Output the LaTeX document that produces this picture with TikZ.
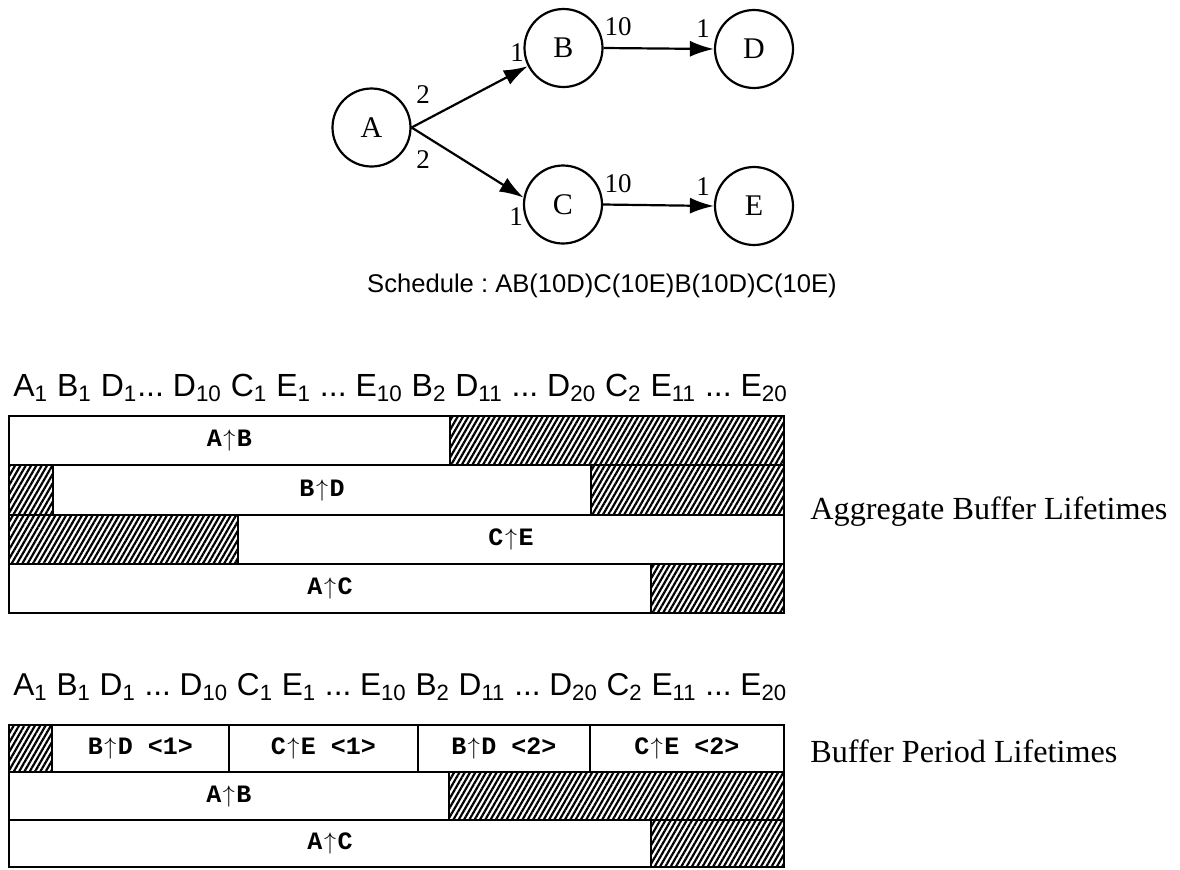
\documentclass[tikz,border=0pt]{standalone}
\usepackage{fontspec}
\setmainfont{Liberation Serif}
\setsansfont{Liberation Sans}
\setmonofont{Liberation Mono}
\usetikzlibrary{arrows.meta,patterns.meta}
\tikzset{>={Latex[length=12pt,width=8pt]}}
\frenchspacing
\newcommand{\lifeup}{\makebox[0.6em]{$\uparrow$}}
\tikzset{
  actor/.style={circle,draw,line width=1.1pt,minimum size=39pt,inner sep=0pt,font=\fontsize{15}{17}\selectfont},
  rate/.style={inner sep=0pt,font=\fontsize{13.5}{15}\selectfont},
  lifebar/.style={draw,line width=1.3pt,fill=white},
  hatched/.style={draw,line width=1.3pt,pattern={Lines[angle=60,distance=2.3pt,line width=1.1pt]}},
  buflabel/.style={inner sep=0pt,font=\ttfamily\bfseries\fontsize{12.5}{14}\selectfont},
  seqlabel/.style={anchor=base west,inner sep=0pt,font=\sffamily\fontsize{16}{19}\selectfont},
  sidelabel/.style={anchor=west,inner sep=0pt,font=\fontsize{16.1}{19}\selectfont}
}

\begin{document}
\begin{tikzpicture}[x=0.5pt,y=-0.5pt]
\useasboundingbox (0,0) rectangle (1180,869);
%%%% graph
\node[actor] (A) at (371.5,127.5) {A};
\node[actor] (B) at (563.5,48) {B};
\node[actor] (D) at (754,49) {D};
\node[actor] (C) at (563,204.5) {C};
\node[actor] (E) at (754,206) {E};
\draw[line width=1.1pt,->] (A.east) -- (B.207);
\draw[line width=1.1pt,->] (A.east) -- (C.170);
\draw[line width=1.1pt,->] (B.east) -- (D.west);
\draw[line width=1.1pt,->] (C.east) -- (E.west);
\node[rate] (ABout) at (423,95) {2};
\node[rate] (ACout) at (423,160) {2};
\node[rate] (ABin) at (517,53) {1};
\node[rate] (ACin) at (516,217) {1};
\node[rate] (BDout) at (618,27) {10};
\node[rate] (BDin) at (703,29) {1};
\node[rate] (CEout) at (618,184) {10};
\node[rate] (CEin) at (703,187) {1};
%%%% schedule
\node[anchor=base,inner sep=0pt,font=\sffamily\fontsize{12.8}{15}\selectfont] (sched) at (602,292) {Schedule : AB(10D)C(10E)B(10D)C(10E)};
%%%% aggregate lifetimes
\node[seqlabel] (seqagg) at (13,396) {A\textsubscript{1} B\textsubscript{1} D\textsubscript{1}... D\textsubscript{10} C\textsubscript{1} E\textsubscript{1} ... E\textsubscript{10} B\textsubscript{2} D\textsubscript{11} ... D\textsubscript{20} C\textsubscript{2} E\textsubscript{11} ... E\textsubscript{20}};
\draw[lifebar] (9,416) rectangle (450,465);
\draw[hatched] (450,416) rectangle (784,465);
\node[buflabel] (aggab) at (229.5,440.5) {A\lifeup B};
\draw[hatched] (9,465) rectangle (53,515);
\draw[lifebar] (53,465) rectangle (591,515);
\draw[hatched] (591,465) rectangle (784,515);
\node[buflabel] (aggbd) at (322,490) {B\lifeup D};
\draw[hatched] (9,515) rectangle (238,564);
\draw[lifebar] (238,515) rectangle (784,564);
\node[buflabel] (aggce) at (511,539.5) {C\lifeup E};
\draw[lifebar] (9,564) rectangle (651,613);
\draw[hatched] (651,564) rectangle (784,613);
\node[buflabel] (aggac) at (330,588.5) {A\lifeup C};
\node[sidelabel] (aggname) at (810,512) {Aggregate Buffer Lifetimes};
%%%% period lifetimes
\node[seqlabel,font=\sffamily\fontsize{15.8}{19}\selectfont] (seqper) at (13,695) {A\textsubscript{1} B\textsubscript{1} D\textsubscript{1} ... D\textsubscript{10} C\textsubscript{1} E\textsubscript{1} ... E\textsubscript{10} B\textsubscript{2} D\textsubscript{11} ... D\textsubscript{20} C\textsubscript{2} E\textsubscript{11} ... E\textsubscript{20}};
\draw[hatched] (9,725) rectangle (52,772);
\draw[lifebar] (52,725) rectangle (229,772);
\draw[lifebar] (229,725) rectangle (418,772);
\draw[lifebar] (418,725) rectangle (590,772);
\draw[lifebar] (590,725) rectangle (784,772);
\node[buflabel] (perbd1) at (140.5,748.5) {B\lifeup D <1>};
\node[buflabel] (perce1) at (323.5,748.5) {C\lifeup E <1>};
\node[buflabel] (perbd2) at (504,748.5) {B\lifeup D <2>};
\node[buflabel] (perce2) at (687,748.5) {C\lifeup E <2>};
\draw[lifebar] (9,772) rectangle (449,820);
\draw[hatched] (449,772) rectangle (784,820);
\node[buflabel] (perab) at (229,796) {A\lifeup B};
\draw[lifebar] (9,820) rectangle (651,867);
\draw[hatched] (651,820) rectangle (784,867);
\node[buflabel] (perac) at (330,843.5) {A\lifeup C};
\node[sidelabel] (pername) at (810,751) {Buffer Period Lifetimes};
\end{tikzpicture}
\end{document}
